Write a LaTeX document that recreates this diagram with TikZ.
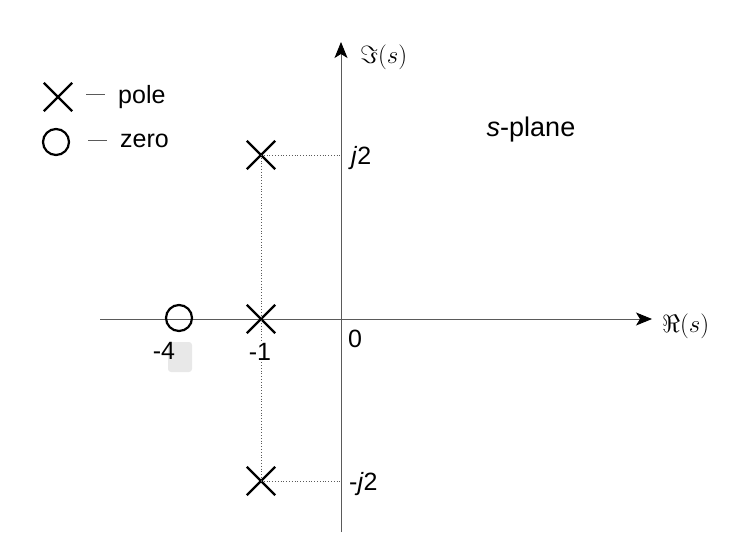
\documentclass[tikz,border=0pt]{standalone}
\usepackage{fontspec}
\setmainfont{Liberation Sans}
\definecolor{axisgray}{RGB}{90, 90, 90}
\usetikzlibrary{shapes.misc, arrows.meta, positioning, calc}

\begin{document}
\begin{tikzpicture}[
    x=1pt, y=-1pt,
    axis/.style={draw=axisgray, line width=0.9pt,
                 -{Stealth[length=16pt, width=13pt, inset=4pt, black]}},
    guide/.style={draw=axisgray, line width=0.8pt, dotted},
    pole/.style={draw, cross out, line width=2.4pt, minimum size=26pt,
                 inner sep=0pt},
    zero/.style={draw, circle, line width=2.2pt, minimum size=26pt,
                 inner sep=0pt},
    legline/.style={draw=axisgray, line width=0.8pt},
    lbl/.style={font=\fontsize{25}{29}\selectfont, inner sep=1pt},
    mlbl/.style={font=\fontsize{30}{34}\selectfont, inner sep=1pt}
  ]
    \useasboundingbox (0,0) rectangle (743,546);

    % axes
    \coordinate (o) at (341,319);
    \coordinate (xl) at (100,319);
    \coordinate (xr) at (652,319);
    \coordinate (yb) at (341,532);
    \coordinate (yt) at (341,42);
    \draw[axis] (xl) -- (xr);
    \draw[axis] (yb) -- (yt);
    \node[mlbl, anchor=west] (im) at (359,57) {$\Im(s)$};
    \node[mlbl, anchor=west] (re) at (661,326) {$\Re(s)$};

    % poles and zero
    \node[pole] (p1) at (261,155) {};
    \node[pole] (p2) at (261,319) {};
    \node[pole] (p3) at (261,481) {};
    \node[zero] (z1) at (179,318) {};

    % guides
    \draw[guide] (p1.center) -- (p3.center);
    \draw[guide] (p1.center) -- (p1.center -| o);
    \draw[guide] (p3.center) -- (p3.center -| o);

    % tick labels
    \fill[gray!18, rounded corners=3pt] (168,342) rectangle (192,372);
    \node[lbl] (m4) at (164,351) {-4};
    \node[lbl, fill=white] (m1) at (260,352) {-1};
    \node[lbl] (n0) at (355,339) {0};
    \node[lbl, anchor=west] (j2) at (350,158) {\textit{j}2};
    \node[lbl, anchor=west] (mj2) at (348,484) {-\textit{j}2};
    \node[lbl, font=\fontsize{27}{31}\selectfont] (sp) at (531,130) {\textit{s}-plane};

    % legend
    \node[pole] (lp) at (58,97) {};
    \node[zero] (lz) at (56,142) {};
    \draw[legline] ([xshift=28pt, yshift=3pt]lp.center) -- ++(19,0);
    \draw[legline] ([xshift=32pt, yshift=2pt]lz.center) -- ++(19,0);
    \node[lbl, anchor=west] (lpt) at (117,97) {pole};
    \node[lbl, anchor=west] (lzt) at (119,141) {zero};
\end{tikzpicture}
\end{document}
